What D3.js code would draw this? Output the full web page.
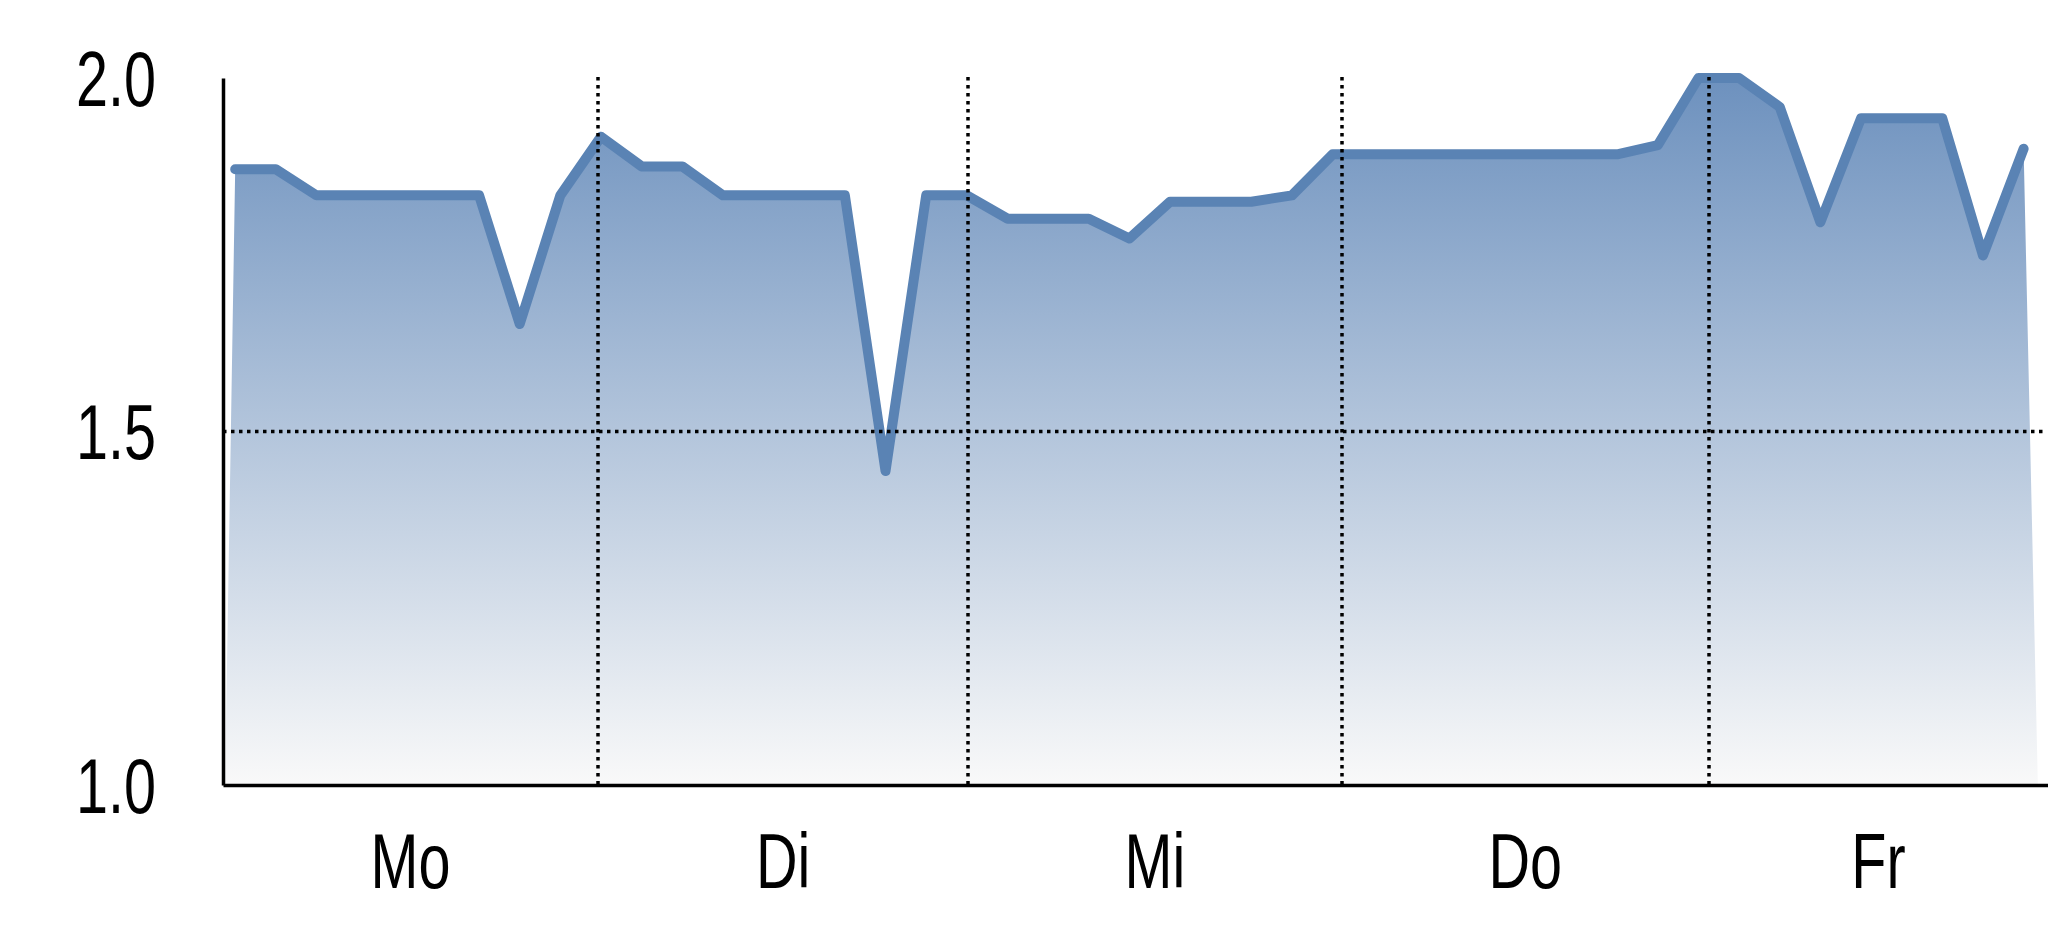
<!DOCTYPE html>
<html lang="de">
<head>
    <meta charset="UTF-8">
    <title>Wochenverlauf</title>
    <script src="https://d3js.org/d3.v7.min.js"></script>
    <style>
        body { margin: 0; background: #fff; }
        .lbl {
            font-family: "Liberation Sans Narrow", "Arial Narrow", "Liberation Sans", sans-serif;
            font-size: 77px;
            fill: #000;
        }
        .grid {
            stroke: #000;
            stroke-width: 3.5;
            stroke-dasharray: 3.5 4.5;
            fill: none;
        }
        .axis path { stroke: #000; stroke-width: 3.5; }
    </style>
</head>
<body>
<svg id="chart" width="2048" height="937"></svg>
<script>
    // hourly readings, 9 per day (Mo..Fr)
    const values = [
        1.871, 1.871, 1.834, 1.834, 1.834, 1.834, 1.834, 1.652, 1.834,
        1.917, 1.875, 1.875, 1.834, 1.834, 1.834, 1.834, 1.444, 1.834,
        1.834, 1.801, 1.801, 1.801, 1.773, 1.825, 1.825, 1.825, 1.834,
        1.892, 1.892, 1.892, 1.892, 1.892, 1.892, 1.892, 1.892, 1.905,
        2.000, 2.000, 1.959, 1.796, 1.943, 1.943, 1.943, 1.749, 1.900
    ];
    const days = ["Mo", "Di", "Mi", "Do", "Fr"];
    // day boundaries on the point index scale (first = axis start)
    const dayStarts = [-0.3, 8.93, 18.03, 27.22, 36.26];
    const yTicks = [1.0, 1.5, 2.0];

    const svg = d3.select("#chart");
    const mLeft = 223, mRight = 2048, mTop = 78, mBottom = 785;

    const x = d3.scaleLinear().domain([-0.3, 44.6]).range([mLeft, mRight]);
    const y = d3.scaleLinear().domain([1, 2]).range([mBottom, mTop]);

    const defs = svg.append("defs");
    const grad = defs.append("linearGradient")
        .attr("id", "fillGrad")
        .attr("gradientUnits", "userSpaceOnUse")
        .attr("x1", 0).attr("x2", 0)
        .attr("y1", y(2)).attr("y2", y(1));
    grad.append("stop").attr("offset", 0).attr("stop-color", "#6d91be");
    grad.append("stop").attr("offset", 1).attr("stop-color", "#f9f9f9");

    const pts = values.map((v, i) => [i, v]);

    // filled area, closed a little outside first/last point like the original
    const poly = [[-0.25, 1]].concat(pts, [[44.35, 1]]);
    svg.append("path")
        .attr("d", d3.line().x(d => x(d[0])).y(d => y(d[1]))(poly) + "Z")
        .attr("fill", "url(#fillGrad)");

    svg.append("path")
        .datum(pts)
        .attr("d", d3.line().x(d => x(d[0])).y(d => y(d[1])))
        .attr("fill", "none")
        .attr("stroke", "#5a83b4")
        .attr("stroke-width", 10)
        .attr("stroke-linejoin", "round")
        .attr("stroke-linecap", "round");

    // dotted grid
    svg.append("line").attr("class", "grid")
        .attr("x1", mLeft).attr("x2", mRight - 4)
        .attr("y1", y(1.5)).attr("y2", y(1.5));
    svg.selectAll("line.vgrid")
        .data(dayStarts.slice(1))
        .enter().append("line")
        .attr("class", "grid vgrid")
        .attr("x1", d => Math.round(x(d))).attr("x2", d => Math.round(x(d)))
        .attr("y1", mTop - 1).attr("y2", mBottom);

    // axes
    svg.append("g").attr("class", "axis")
        .attr("transform", `translate(0,${mBottom})`)
        .call(d3.axisBottom(x).tickValues([]).tickSizeOuter(0));
    svg.append("g").attr("class", "axis")
        .attr("transform", `translate(${mLeft},0)`)
        .call(d3.axisLeft(y).tickValues([]).tickSizeOuter(0));

    // labels in the original are a condensed face: squeeze to match "Mo" ~80px wide
    const probe = svg.append("text").attr("class", "lbl").text("Mo");
    const squeeze = 80 / probe.node().getComputedTextLength();
    probe.remove();

    // y tick labels
    svg.selectAll("g.ylbl")
        .data(yTicks)
        .enter().append("g")
        .attr("class", "ylbl")
        .attr("transform", d => `translate(156,${y(d)}) scale(${squeeze},1)`)
        .append("text")
        .attr("class", "lbl")
        .attr("text-anchor", "end")
        .attr("dy", "0.36em")
        .text(d3.format(".1f"));

    // day labels centred in the visible part of each day
    const dayEnds = dayStarts.slice(1).concat([x.domain()[1]]);
    svg.selectAll("g.xlbl")
        .data(days)
        .enter().append("g")
        .attr("class", "xlbl")
        .attr("transform", (d, i) => `translate(${(x(dayStarts[i]) + x(dayEnds[i])) / 2},888) scale(${squeeze},1)`)
        .append("text")
        .attr("class", "lbl")
        .attr("text-anchor", "middle")
        .text(d => d);
</script>
</body>
</html>
